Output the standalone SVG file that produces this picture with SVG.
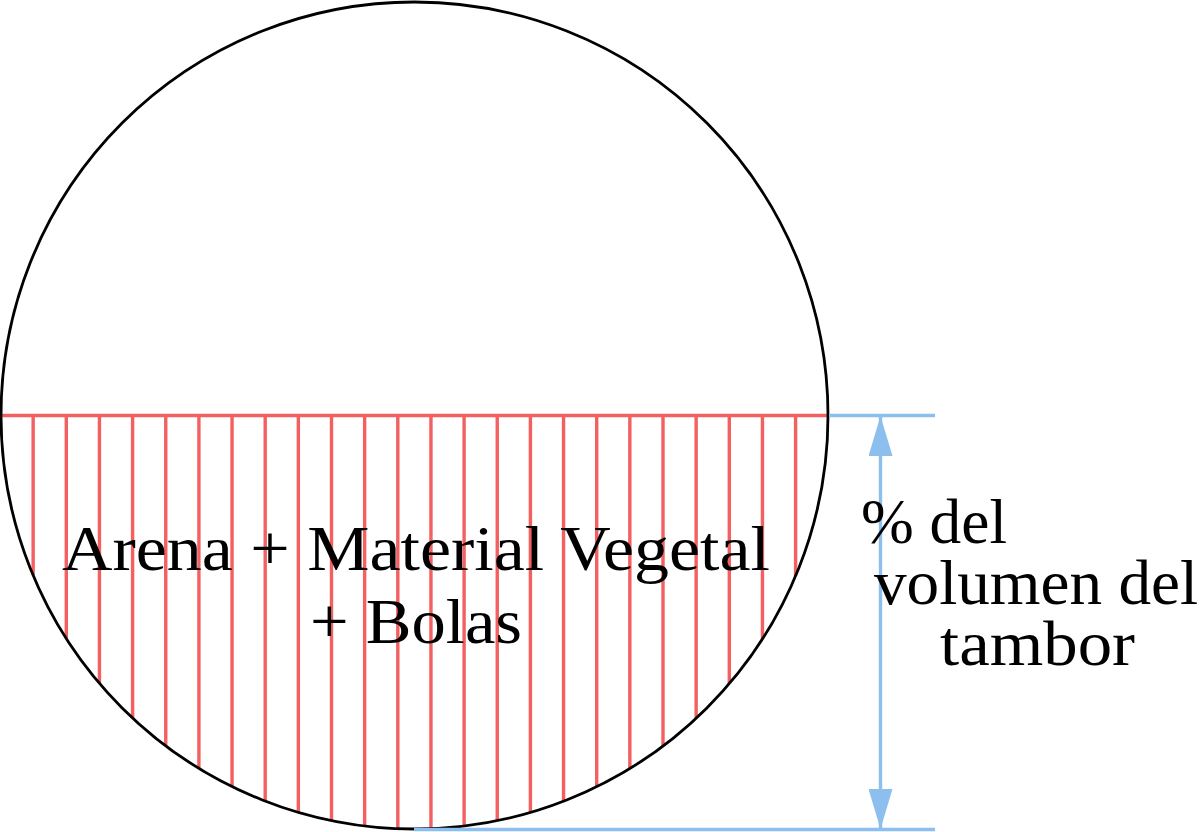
<svg xmlns="http://www.w3.org/2000/svg" width="1200" height="832" viewBox="0 0 1200 832">
<style>
.hatch line{stroke:#F45F5F;stroke-width:3.4;fill:none}
.blue{stroke:#8CBFEE;stroke-width:3.4;fill:none}
.txt{font-family:"Liberation Serif","DejaVu Serif",serif;font-size:64px;fill:#000}
</style>
<defs>
<marker id="ah" viewBox="0 0 40 24" refX="40" refY="12" markerWidth="40" markerHeight="24" markerUnits="userSpaceOnUse" orient="auto-start-reverse">
<path d="M0,0 L40,12 L0,24 Z" fill="#8CBFEE"/>
</marker>
</defs>
<rect width="1200" height="832" fill="#fff"/>
<g id="hatch" class="hatch">
<line x1="0" y1="415.5" x2="829" y2="415.5"/>
<line x1="33.15" y1="415" x2="33.15" y2="575.4"/>
<line x1="66.3" y1="415" x2="66.3" y2="638.5"/>
<line x1="99.45" y1="415" x2="99.45" y2="683.3"/>
<line x1="132.6" y1="415" x2="132.6" y2="718"/>
<line x1="165.75" y1="415" x2="165.75" y2="745.8"/>
<line x1="198.9" y1="415" x2="198.9" y2="768.3"/>
<line x1="232.05" y1="415" x2="232.05" y2="786.6"/>
<line x1="265.2" y1="415" x2="265.2" y2="801.1"/>
<line x1="298.35" y1="415" x2="298.35" y2="812.4"/>
<line x1="331.5" y1="415" x2="331.5" y2="820.6"/>
<line x1="364.65" y1="415" x2="364.65" y2="826"/>
<line x1="397.8" y1="415" x2="397.8" y2="828.7"/>
<line x1="430.95" y1="415" x2="430.95" y2="828.7"/>
<line x1="464.1" y1="415" x2="464.1" y2="826"/>
<line x1="497.25" y1="415" x2="497.25" y2="820.6"/>
<line x1="530.4" y1="415" x2="530.4" y2="812.4"/>
<line x1="563.55" y1="415" x2="563.55" y2="801.2"/>
<line x1="596.7" y1="415" x2="596.7" y2="786.7"/>
<line x1="629.85" y1="415" x2="629.85" y2="768.5"/>
<line x1="663" y1="415" x2="663" y2="746"/>
<line x1="696.15" y1="415" x2="696.15" y2="718.2"/>
<line x1="729.3" y1="415" x2="729.3" y2="683.6"/>
<line x1="762.45" y1="415" x2="762.45" y2="638.9"/>
<line x1="795.6" y1="415" x2="795.6" y2="576"/>
</g>
<g id="drum">
<circle cx="414.5" cy="415.5" r="413.5" fill="none" stroke="#000" stroke-width="2.8"/>
</g>
<g id="connectors">
<line class="blue" x1="829" y1="415.5" x2="935" y2="415.5"/>
<line class="blue" x1="414" y1="829.5" x2="935" y2="829.5"/>
<line class="blue" x1="880.5" y1="416" x2="880.5" y2="829" marker-start="url(#ah)" marker-end="url(#ah)"/>
</g>
<g id="label-content">
<text class="txt" x="62" y="570" textLength="708" lengthAdjust="spacingAndGlyphs">Arena + Material Vegetal</text>
<text class="txt" x="310" y="643" textLength="212" lengthAdjust="spacingAndGlyphs">+ Bolas</text>
</g>
<g id="label-volume">
<text class="txt" x="861" y="543" textLength="146" lengthAdjust="spacingAndGlyphs">% del</text>
<text class="txt" x="874" y="604" textLength="324" lengthAdjust="spacingAndGlyphs">volumen del</text>
<text class="txt" x="940" y="665" textLength="195" lengthAdjust="spacingAndGlyphs">tambor</text>
</g>
</svg>
